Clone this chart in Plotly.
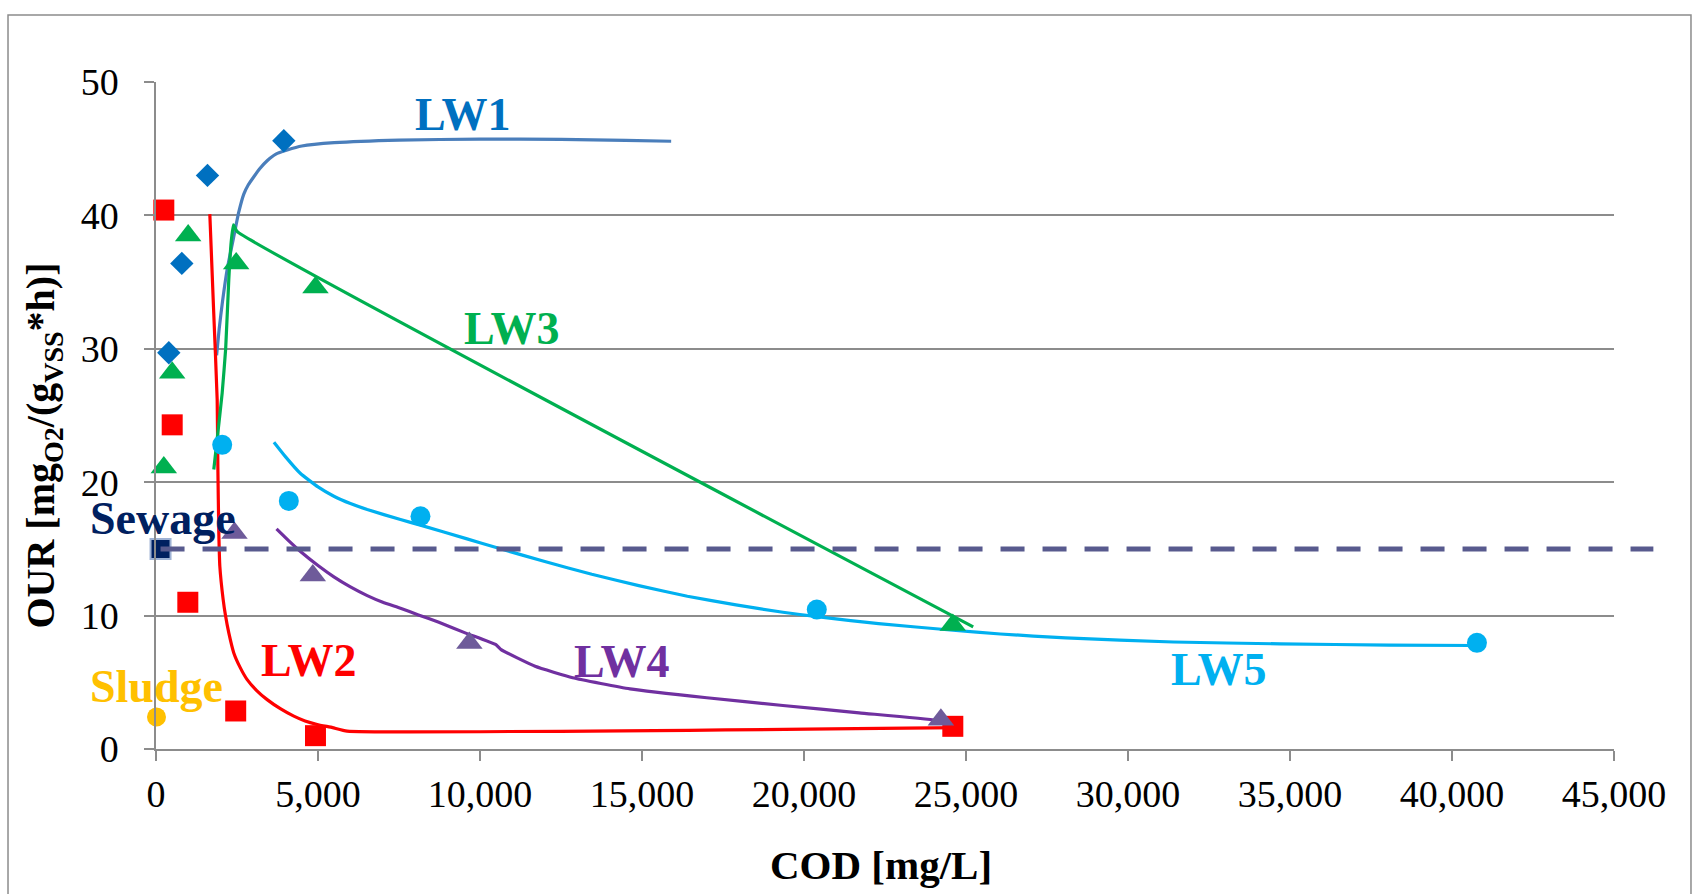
import plotly.graph_objects as go

# ---------------- data ----------------
LW1_COD = [395, 797, 1589, 3945]
LW1_OUR = [29.7, 36.4, 43.0, 45.6]
LW2_COD = [241, 500, 982, 2460, 4922, 24593]
LW2_OUR = [40.4, 24.3, 11.0, 2.85, 1.0, 1.7]
LW3_COD = [241, 500, 993, 2475, 4922, 24593]
LW3_OUR = [21.1, 28.2, 38.5, 36.4, 34.6, 9.3]
LW4_COD = [2422, 4840, 9672, 24225]
LW4_OUR = [16.2, 13.0, 7.95, 2.2]
LW5_COD = [2043, 4099, 8163, 20395, 40770]
LW5_OUR = [22.8, 18.6, 17.45, 10.46, 7.96]
SEWAGE_COD = [140]
SEWAGE_OUR = [15.0]
SLUDGE_COD = [15]
SLUDGE_OUR = [2.4]

# fitted / smoothed curves as drawn in the reference
FIT1_COD = [1870, 1950, 2050, 2200, 2400, 2550, 2710, 2850, 3020, 3200, 3430, 3700,
            4050, 4500, 5500, 7500, 10000, 12500, 14500, 15900]
FIT1_OUR = [29.5, 31.5, 33.5, 36.0, 38.4, 40.2, 41.6, 42.3, 42.9, 43.5, 44.1, 44.6,
            44.9, 45.2, 45.45, 45.65, 45.72, 45.7, 45.62, 45.56]
FIT2_COD = [1661, 1775, 1888, 1909, 1939, 1970, 2073, 2145, 2247, 2401, 2600, 2814,
            3100, 3431, 3850, 4253, 4600, 4975, 5450, 5900, 24800]
FIT2_OUR = [40.1, 33.1, 26.2, 21.2, 16.2, 13.7, 11.2, 10.0, 8.7, 7.2, 6.1, 5.2,
            4.4, 3.7, 3.0, 2.46, 2.1, 1.84, 1.6, 1.34, 1.6]
FIT3_COD = [1784, 1900, 2043, 2150, 2247, 2320, 2390, 2500, 25222]
FIT3_OUR = [20.95, 23.5, 26.7, 30.0, 35.2, 38.0, 39.3, 38.8, 9.16]
FIT4_COD = [3720, 4100, 4460, 5000, 5490, 6000, 6520, 7000, 7545, 8100, 8730, 9600,
            10500, 10650, 11700, 12860, 14630, 17000, 19350, 21700, 24080, 24810]
FIT4_OUR = [16.5, 15.6, 14.8, 13.75, 12.9, 12.15, 11.5, 11.0, 10.55, 10.05, 9.5, 8.65,
            7.8, 7.45, 6.2, 5.34, 4.51, 3.84, 3.26, 2.71, 2.16, 1.81]
FIT5_COD = [3640, 4000, 4460, 5000, 5490, 6000, 6520, 7545, 8160, 9600, 10500, 12000,
            13450, 14900, 16400, 17900, 19350, 20400, 21440, 22300, 24600, 26060,
            28080, 31400, 34700, 38060, 40720]
FIT5_OUR = [23.0, 21.9, 20.65, 19.65, 18.95, 18.4, 17.95, 17.2, 16.78, 15.75, 15.1, 14.05,
            13.1, 12.25, 11.45, 10.8, 10.25, 9.92, 9.62, 9.4, 8.9, 8.62,
            8.33, 8.02, 7.88, 7.79, 7.76]

X_TICKS = [0, 5000, 10000, 15000, 20000, 25000, 30000, 35000, 40000, 45000]
Y_TICKS = [0, 10, 20, 30, 40, 50]

LABELS = ["LW1", "LW2", "LW3", "LW4", "LW5", "Sewage", "Sludge"]
LABEL_COD = [9457, 4706, 10971, 14365, 32789, 216, 15]
LABEL_OUR = [47.6, 6.63, 31.5, 6.56, 5.96, 17.28, 4.69]
LABEL_COLORS = ["#0070C0", "#FF0000", "#00B050", "#7030A0", "#00B0F0", "#002060", "#FFC000"]

X_TITLE = "COD [mg/L]"
Y_TITLE = "OUR [mg<sub>O2</sub>/(g<sub>VSS</sub>*h)]"

FONT = "Liberation Serif"
GRID = "#8c8c8c"

fig = go.Figure()

# curves first (below markers)
curves = [
    (FIT1_COD, FIT1_OUR, "#4A7EBB"),
    (FIT2_COD, FIT2_OUR, "#FF0000"),
    (FIT3_COD, FIT3_OUR, "#00B050"),
    (FIT4_COD, FIT4_OUR, "#7030A0"),
    (FIT5_COD, FIT5_OUR, "#00B0F0"),
]
for xs, ys, col in curves:
    fig.add_trace(go.Scatter(x=xs, y=ys, mode="lines",
                             line=dict(color=col, width=3.2, shape="spline", smoothing=0.4),
                             showlegend=False, hoverinfo="skip"))

markers = [
    (LW1_COD, LW1_OUR, "diamond", "#0070C0", 18, None),
    (LW2_COD, LW2_OUR, "square", "#FF0000", 21, None),
    (LW3_COD, LW3_OUR, "triangle-up", "#00B050", 23, None),
    (LW4_COD, LW4_OUR, "triangle-up", "#6E5B9A", 23, None),
    (LW5_COD, LW5_OUR, "circle", "#00B0F0", 20, None),
    (SEWAGE_COD, SEWAGE_OUR, "square", "#002060", 20, "#9EB2D4"),
    (SLUDGE_COD, SLUDGE_OUR, "circle", "#FFC000", 19, None),
]
for xs, ys, sym, col, sz, lc in markers:
    fig.add_trace(go.Scatter(
        x=xs, y=ys, mode="markers", cliponaxis=False,
        marker=dict(symbol=sym, color=col, size=sz,
                    line=dict(color=lc if lc else col, width=2 if lc else 0)),
        showlegend=False))

# sewage reference line (dashed), extends a little past the axis end like the original
fig.add_shape(type="line", xref="paper", yref="y",
              x0=SEWAGE_COD[0] / X_TICKS[-1], x1=1.027,
              y0=SEWAGE_OUR[0], y1=SEWAGE_OUR[0],
              line=dict(color="#585A8E", width=5, dash="24px,18px"), layer="above")

# chart frame border
fig.add_shape(type="rect", xref="paper", yref="paper",
              x0=-0.1015, x1=1.0528, y0=-0.25, y1=1.1004,
              line=dict(color=GRID, width=1.5), layer="below")

for txt, xv, yv, col in zip(LABELS, LABEL_COD, LABEL_OUR, LABEL_COLORS):
    fig.add_annotation(x=xv, y=yv, xref="x", yref="y", text=txt, showarrow=False,
                       xanchor="center", yanchor="middle",
                       font=dict(family=FONT, size=46, color=col, weight="bold"))

# axis titles as annotations
fig.add_annotation(x=-0.0775, y=0.455, xref="paper", yref="paper",
                   text=Y_TITLE, textangle=-90,
                   showarrow=False, xanchor="center", yanchor="middle",
                   font=dict(family=FONT, size=40, color="black", weight="bold"))
fig.add_annotation(x=0.497, y=-0.174, xref="paper", yref="paper",
                   text=X_TITLE, showarrow=False, xanchor="center", yanchor="middle",
                   font=dict(family=FONT, size=41, color="black", weight="bold"))

fig.update_layout(
    width=1694, height=894,
    margin=dict(l=156, r=80, t=82, b=145, autoexpand=False),
    paper_bgcolor="white", plot_bgcolor="white",
    showlegend=False,
    xaxis=dict(range=[0, 45000], tickvals=X_TICKS, tickformat=",d",
               automargin=False,
               showgrid=False, zeroline=False,
               showline=True, linecolor=GRID, linewidth=1.5,
               ticks="outside", ticklen=10, tickwidth=1.5, tickcolor=GRID,
               tickfont=dict(family=FONT, size=38, color="black"),
               ticklabelstandoff=1),
    yaxis=dict(range=[0, 50], tickvals=Y_TICKS,
               automargin=False,
               showgrid=True, gridcolor=GRID, gridwidth=1.5, zeroline=False,
               showline=True, linecolor=GRID, linewidth=1.5,
               ticks="outside", ticklen=10, tickwidth=1.5, tickcolor=GRID,
               tickfont=dict(family=FONT, size=38, color="black"),
               ticklabelstandoff=18),
)

fig.write_html("out.html", config={"displayModeBar": False},
               post_script="document.body.style.margin='0';document.body.style.overflow='hidden';")
